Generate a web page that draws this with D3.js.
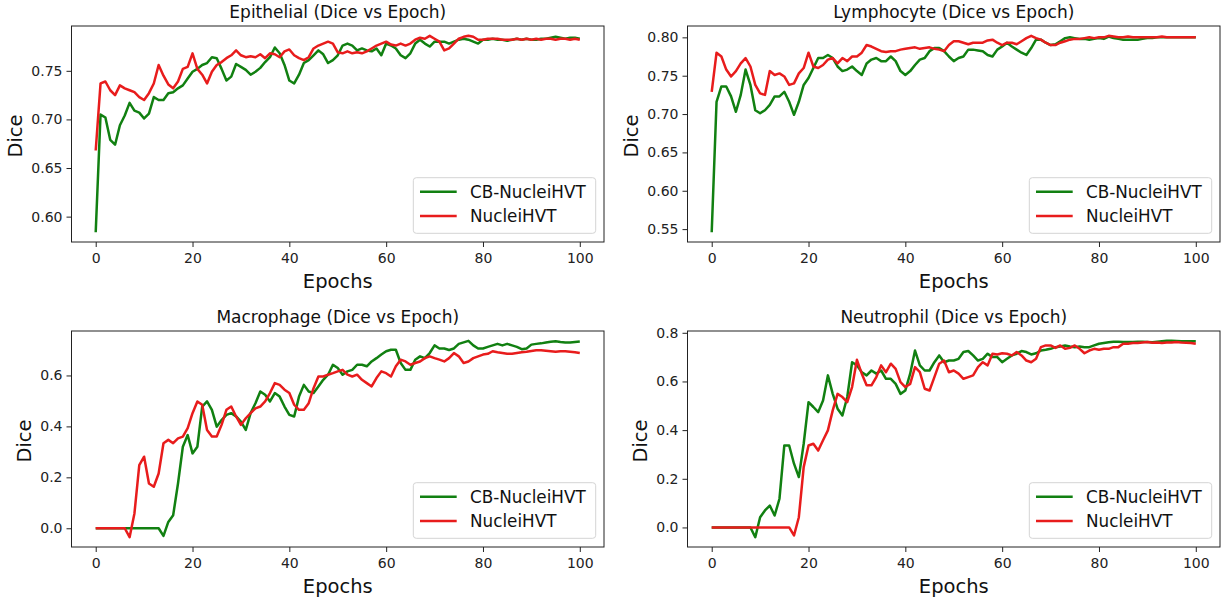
<!DOCTYPE html>
<html>
<head>
<meta charset="utf-8">
<script src="https://cdn.jsdelivr.net/npm/d3@7/dist/d3.min.js"></script>
<style>
  html, body { margin: 0; padding: 0; background: #fff; }
  svg { display: block; font-family: "DejaVu Sans", sans-serif; }
</style>
</head>
<body>
<svg id="chart" width="1225" height="603"></svg>
<script>
// ---- data (one value per epoch) ----
var epochs = d3.range(0, 101);
var xTicks = [0, 20, 40, 60, 80, 100];
var seriesNames = ["CB-NucleiHVT", "NucleiHVT"];
var titles = ["Epithelial (Dice vs Epoch)", "Lymphocyte (Dice vs Epoch)",
              "Macrophage (Dice vs Epoch)", "Neutrophil (Dice vs Epoch)"];

var epiTicks = [0.60, 0.65, 0.70, 0.75];
var lymTicks = [0.55, 0.60, 0.65, 0.70, 0.75, 0.80];
var macTicks = [0.0, 0.2, 0.4, 0.6];
var neuTicks = [0.0, 0.2, 0.4, 0.6, 0.8];

var epiCB = [
  0.584,0.705,0.702,0.679,0.674,0.694,0.704,0.717,0.709,0.707,
  0.701,0.706,0.723,0.720,0.720,0.727,0.728,0.732,0.735,0.742,
  0.749,0.752,0.756,0.758,0.764,0.763,0.752,0.740,0.744,0.757,
  0.754,0.751,0.746,0.749,0.753,0.759,0.764,0.774,0.768,0.756,
  0.740,0.737,0.746,0.758,0.761,0.766,0.771,0.767,0.758,0.761,
  0.766,0.776,0.778,0.776,0.771,0.773,0.771,0.770,0.773,0.766,
  0.778,0.776,0.773,0.766,0.763,0.768,0.778,0.782,0.778,0.775,
  0.780,0.780,0.780,0.778,0.780,0.782,0.783,0.782,0.780,0.778,
  0.782,0.782,0.783,0.782,0.782,0.781,0.782,0.783,0.782,0.783,
  0.782,0.782,0.783,0.783,0.784,0.785,0.784,0.783,0.784,0.784,
  0.783];
var epiHVT = [
  0.668,0.737,0.739,0.730,0.725,0.735,0.732,0.730,0.728,0.723,
  0.720,0.727,0.737,0.756,0.745,0.736,0.732,0.739,0.752,0.754,
  0.768,0.752,0.746,0.737,0.749,0.756,0.759,0.763,0.766,0.771,
  0.766,0.764,0.765,0.764,0.767,0.763,0.768,0.767,0.764,0.770,
  0.772,0.766,0.763,0.761,0.764,0.773,0.776,0.778,0.780,0.778,
  0.769,0.768,0.770,0.768,0.769,0.768,0.770,0.773,0.776,0.778,
  0.780,0.777,0.776,0.778,0.776,0.778,0.782,0.784,0.783,0.786,
  0.783,0.780,0.771,0.773,0.778,0.783,0.785,0.786,0.785,0.782,
  0.782,0.783,0.783,0.783,0.782,0.782,0.782,0.783,0.782,0.783,
  0.782,0.783,0.782,0.783,0.783,0.782,0.783,0.783,0.782,0.783,
  0.782];

var lymCB = [
  0.546,0.716,0.736,0.736,0.723,0.703,0.725,0.758,0.738,0.705,
  0.701,0.705,0.712,0.723,0.723,0.729,0.716,0.699,0.716,0.738,
  0.747,0.760,0.773,0.773,0.777,0.773,0.762,0.756,0.758,0.762,
  0.756,0.751,0.766,0.771,0.773,0.769,0.769,0.775,0.769,0.756,
  0.751,0.756,0.764,0.771,0.773,0.782,0.786,0.786,0.782,0.775,
  0.769,0.773,0.775,0.784,0.784,0.783,0.782,0.777,0.775,0.784,
  0.788,0.793,0.788,0.784,0.780,0.777,0.786,0.797,0.797,0.793,
  0.790,0.791,0.795,0.799,0.800,0.799,0.798,0.798,0.797,0.798,
  0.799,0.798,0.801,0.799,0.798,0.797,0.797,0.797,0.797,0.798,
  0.799,0.799,0.800,0.800,0.800,0.800,0.800,0.800,0.800,0.800,
  0.800];
var lymHVT = [
  0.729,0.780,0.775,0.758,0.749,0.756,0.766,0.773,0.762,0.738,
  0.727,0.725,0.756,0.751,0.753,0.749,0.738,0.740,0.753,0.760,
  0.780,0.762,0.760,0.764,0.771,0.773,0.766,0.773,0.769,0.775,
  0.775,0.780,0.790,0.788,0.785,0.782,0.781,0.782,0.782,0.784,
  0.785,0.786,0.787,0.785,0.786,0.787,0.785,0.784,0.782,0.790,
  0.795,0.795,0.793,0.791,0.793,0.793,0.793,0.796,0.797,0.793,
  0.790,0.793,0.793,0.791,0.795,0.799,0.802,0.799,0.797,0.793,
  0.790,0.790,0.793,0.795,0.797,0.798,0.798,0.799,0.800,0.799,
  0.800,0.800,0.802,0.801,0.800,0.800,0.801,0.800,0.800,0.800,
  0.800,0.800,0.800,0.801,0.800,0.800,0.800,0.800,0.800,0.800,
  0.800];

var macCB = [
  0,0,0,0,0,0,0,0,0,0,
  0,0,0,0,-0.030,0.025,0.051,0.176,0.320,0.366,
  0.294,0.320,0.478,0.498,0.465,0.399,0.425,0.445,0.452,0.439,
  0.419,0.386,0.452,0.491,0.537,0.524,0.498,0.531,0.517,0.478,
  0.445,0.439,0.517,0.563,0.537,0.531,0.557,0.583,0.603,0.642,
  0.629,0.603,0.616,0.622,0.642,0.642,0.636,0.655,0.668,0.682,
  0.695,0.701,0.701,0.649,0.622,0.622,0.662,0.675,0.668,0.688,
  0.718,0.706,0.706,0.700,0.706,0.724,0.730,0.736,0.718,0.706,
  0.706,0.712,0.718,0.724,0.718,0.724,0.718,0.712,0.703,0.706,
  0.721,0.724,0.726,0.729,0.732,0.734,0.731,0.729,0.729,0.731,
  0.733];
var macHVT = [
  0,0,0,0,0,0,0,-0.035,0.058,0.248,
  0.281,0.176,0.163,0.215,0.334,0.347,0.334,0.353,0.360,0.393,
  0.452,0.498,0.485,0.386,0.360,0.360,0.406,0.465,0.478,0.439,
  0.406,0.432,0.452,0.471,0.478,0.498,0.531,0.570,0.563,0.544,
  0.531,0.485,0.465,0.465,0.491,0.550,0.596,0.596,0.603,0.609,
  0.616,0.622,0.603,0.596,0.603,0.583,0.570,0.557,0.590,0.616,
  0.609,0.596,0.636,0.662,0.655,0.642,0.649,0.655,0.668,0.675,
  0.668,0.662,0.655,0.668,0.688,0.675,0.649,0.655,0.668,0.675,
  0.682,0.685,0.695,0.691,0.688,0.685,0.685,0.688,0.691,0.693,
  0.696,0.699,0.699,0.697,0.695,0.693,0.695,0.695,0.693,0.691,
  0.688];

var neuCB = [
  0,0,0,0,0,0,0,0,0,-0.040,
  0.042,0.070,0.090,0.049,0.118,0.337,0.337,0.262,0.207,0.344,
  0.515,0.495,0.474,0.522,0.625,0.549,0.488,0.460,0.536,0.679,
  0.666,0.638,0.625,0.645,0.632,0.645,0.611,0.611,0.590,0.549,
  0.563,0.632,0.727,0.666,0.645,0.645,0.679,0.707,0.679,0.686,
  0.686,0.693,0.721,0.725,0.707,0.686,0.693,0.714,0.700,0.700,
  0.679,0.693,0.707,0.714,0.725,0.721,0.711,0.716,0.727,0.730,
  0.734,0.741,0.744,0.748,0.744,0.741,0.744,0.741,0.741,0.748,
  0.755,0.758,0.761,0.763,0.763,0.762,0.762,0.762,0.763,0.763,
  0.762,0.761,0.763,0.765,0.767,0.767,0.766,0.765,0.765,0.765,
  0.765];
var neuHVT = [
  0,0,0,0,0,0,0,0,0,0,
  0,0,0,0,0,0,0,-0.033,0.042,0.248,
  0.337,0.344,0.316,0.358,0.399,0.481,0.549,0.536,0.515,0.577,
  0.689,0.632,0.584,0.584,0.618,0.666,0.638,0.673,0.652,0.597,
  0.577,0.590,0.659,0.638,0.570,0.563,0.618,0.673,0.686,0.638,
  0.645,0.632,0.611,0.618,0.625,0.659,0.679,0.666,0.714,0.711,
  0.716,0.714,0.707,0.721,0.707,0.686,0.679,0.693,0.741,0.748,
  0.748,0.738,0.748,0.734,0.738,0.748,0.734,0.716,0.727,0.734,
  0.730,0.734,0.734,0.741,0.741,0.755,0.755,0.758,0.758,0.760,
  0.762,0.759,0.760,0.758,0.760,0.760,0.762,0.760,0.759,0.758,
  0.755];

// ---- layout / styles ----
var COLORS = ["#118011", "#e81c1c"];
var FONT_TICK = 14, FONT_TITLE = 17, FONT_LABEL = 19.5, FONT_LEGEND = 16.8;
var panelW = 532.5, panelH = 216;
var panelX = [71.5, 687.5], panelY = [26, 331];

var panels = [
  {title: titles[0], ticks: epiTicks, fmt: ".2f", series: [epiCB, epiHVT]},
  {title: titles[1], ticks: lymTicks, fmt: ".2f", series: [lymCB, lymHVT]},
  {title: titles[2], ticks: macTicks, fmt: ".1f", series: [macCB, macHVT]},
  {title: titles[3], ticks: neuTicks, fmt: ".1f", series: [neuCB, neuHVT]}
];

var svg = d3.select("#chart");

// matplotlib style autoscale: data extent + 5% margin
function padded(ext){
  var m = (ext[1] - ext[0]) * 0.05;
  return [ext[0] - m, ext[1] + m];
}

function styleAxis(g){
  g.select(".domain").remove();
  g.selectAll(".tick line").attr("stroke", "#222").attr("stroke-width", 1);
  g.selectAll(".tick text").attr("fill", "#222")
    .style("font-family", "DejaVu Sans").style("font-size", FONT_TICK + "px");
}

panels.forEach(function(p, i){
  var x0 = panelX[i % 2], y0 = panelY[Math.floor(i / 2)];
  var g = svg.append("g").attr("transform", "translate(" + x0 + "," + y0 + ")");

  var x = d3.scaleLinear().domain(padded([0, 100])).range([0, panelW]);
  var all = p.series[0].concat(p.series[1]);
  var y = d3.scaleLinear().domain(padded(d3.extent(all))).range([panelH, 0]);

  var line = d3.line()
      .x(function(d, k){ return x(epochs[k]); })
      .y(function(d){ return y(d); });

  g.selectAll("path.series").data(p.series).enter().append("path")
    .attr("class", "series")
    .attr("d", line)
    .attr("fill", "none")
    .attr("stroke", function(d, k){ return COLORS[k]; })
    .attr("stroke-width", 2.5)
    .attr("stroke-linejoin", "round");

  var xa = g.append("g").attr("transform", "translate(0," + panelH + ")")
    .call(d3.axisBottom(x).tickValues(xTicks).tickSize(5).tickPadding(6).tickFormat(d3.format("d")));
  styleAxis(xa);

  var ya = g.append("g")
    .call(d3.axisLeft(y).tickValues(p.ticks).tickSize(5).tickPadding(4).tickFormat(d3.format(p.fmt)));
  styleAxis(ya);

  g.append("rect")
    .attr("width", panelW).attr("height", panelH)
    .attr("fill", "none").attr("stroke", "#222").attr("stroke-width", 1);

  g.append("text")
    .attr("x", panelW / 2).attr("y", -8.5)
    .attr("text-anchor", "middle")
    .style("font-size", FONT_TITLE + "px").attr("fill", "#111")
    .text(p.title);

  g.append("text")
    .attr("x", panelW / 2).attr("y", panelH + 45.5)
    .attr("text-anchor", "middle")
    .style("font-size", FONT_LABEL + "px").attr("fill", "#111")
    .text("Epochs");

  var maxW = 0;
  ya.selectAll(".tick text").each(function(){
    maxW = Math.max(maxW, this.getComputedTextLength());
  });
  var labX = -9 - maxW - 16.4;
  g.append("text")
    .attr("transform", "translate(" + labX + "," + (panelH / 2 + 2) + ") rotate(-90)")
    .attr("text-anchor", "middle")
    .attr("dy", "0.36em")
    .style("font-size", FONT_LABEL + "px").attr("fill", "#111")
    .text("Dice");

  // legend, lower right
  var lg = g.append("g");
  var box = lg.append("rect");
  var items = lg.selectAll("g.item").data(seriesNames).enter().append("g")
    .attr("class", "item")
    .attr("transform", function(d, k){ return "translate(0," + (14 + k * 24.3) + ")"; });
  items.append("line")
    .attr("x1", 6.7).attr("x2", 43.4)
    .attr("stroke", function(d, k){ return COLORS[k]; })
    .attr("stroke-width", 2.5);
  items.append("text")
    .attr("x", 56.7).attr("dy", "0.36em")
    .style("font-size", FONT_LEGEND + "px").attr("fill", "#111")
    .text(function(d){ return d; });
  var tw = 0;
  items.selectAll("text").each(function(){ tw = Math.max(tw, this.getComputedTextLength()); });
  var boxW = 56.7 + tw + 10, boxH = 55.6;
  box.attr("width", boxW).attr("height", boxH).attr("rx", 3)
    .attr("fill", "#fff").attr("stroke", "#d4d4d4").attr("stroke-width", 1);
  lg.attr("transform", "translate(" + (panelW - 8.3 - boxW) + "," + (panelH - 8.7 - boxH) + ")");
});
</script>
</body>
</html>
